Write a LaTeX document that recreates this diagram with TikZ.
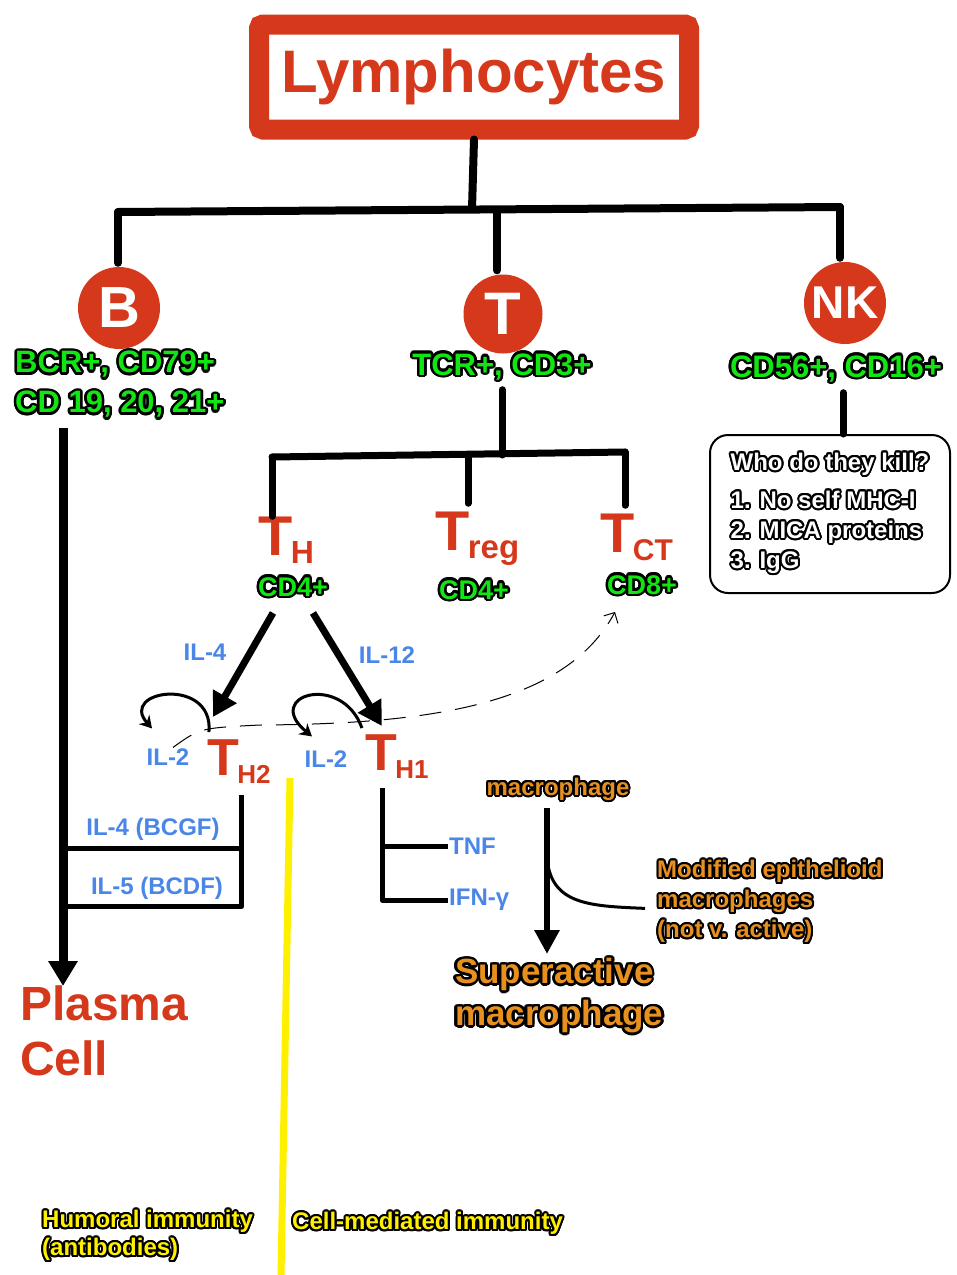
\documentclass[tikz,border=0pt]{standalone}
\usepackage{fontspec}
\setmainfont{Liberation Sans}
\usepackage{contour}
\contourlength{2pt}
\usetikzlibrary{arrows.meta, positioning}

\definecolor{tred}{HTML}{D5381A}
\definecolor{lgreen}{HTML}{12E612}
\definecolor{iblue}{HTML}{4A86E8}
\definecolor{morange}{HTML}{E8901E}
\definecolor{hyellow}{HTML}{FFF000}

% outlined text and T-subset labels
\newcommand{\outl}[1]{\contour{black}{#1}}
\newcommand{\Tsub}[3]{\fontsize{#1}{#1}\selectfont T\kern-1.5pt\raisebox{-8pt}{\fontsize{#2}{#2}\selectfont #3}}

\begin{document}
\begin{tikzpicture}[
    x=1pt, y=-1pt,
    titlebox/.style={
        rectangle, draw=tred, line width=20pt, rounded corners=4pt,
        minimum width=430pt, minimum height=105pt, text=tred,
        font=\bfseries\fontsize{60}{60}\selectfont
    },
    cell/.style={circle, fill=tred, text=white, inner sep=0pt},
    cdlabel/.style={text=lgreen, inner sep=0pt, align=left,
        font=\bfseries\fontsize{31}{40}\selectfont\contourlength{2.6pt}},
    cdsmall/.style={text=lgreen, inner sep=0pt,
        font=\bfseries\fontsize{27}{27}\selectfont\contourlength{2.4pt}},
    tsub/.style={text=tred, inner sep=0pt, anchor=base west, font=\bfseries},
    cyto/.style={text=iblue, inner sep=1pt, font=\bfseries\fontsize{24}{24}\selectfont},
    killbox/.style={
        rectangle, draw, line width=2pt, rounded corners=18pt,
        minimum width=240pt, minimum height=158pt, text=white, align=left,
        font=\bfseries\fontsize{24}{30}\selectfont
    },
    macsmall/.style={text=morange, inner sep=0pt,
        font=\bfseries\fontsize{24}{30}\selectfont},
    macbig/.style={text=morange, inner sep=0pt, align=left, anchor=north west,
        font=\bfseries\fontsize{35}{42}\selectfont\contourlength{2.5pt}},
    plasmatext/.style={text=tred, inner sep=0pt, align=left, anchor=north west,
        font=\bfseries\fontsize{48}{55}\selectfont},
    immunity/.style={text=hyellow, inner sep=0pt, align=left, anchor=north west,
        font=\bfseries\fontsize{24}{28}\selectfont},
    trunk/.style={line width=8pt, line cap=round},
    stem/.style={line width=7pt, line cap=round},
    bracket/.style={line width=5pt, line join=round},
    fat/.style={line width=7pt, -{Triangle[length=24pt,width=26pt]}},
    bigstem/.style={line width=9pt, -{Triangle[length=25pt,width=28pt]}},
    macarrow/.style={line width=6pt, -{Triangle[length=24pt,width=24pt]}},
    autoloop/.style={line width=3pt, -{Stealth[length=12pt,width=14pt]}},
    hint/.style={line width=1pt, dash pattern=on 22pt off 14pt,
        -{Straight Barb[length=8pt,width=16pt]}},
    divider/.style={line width=7pt, draw=hyellow},
]

\fill[white] (0,0) rectangle (957,1275);
\useasboundingbox (0,0) rectangle (957,1275);

% --- title ------------------------------------------------------------
\node[titlebox] (lymph) at (474,77) {Lymphocytes};

% --- the three lineages ----------------------------------------------
\node[cell, minimum size=82pt, font=\bfseries\fontsize{58}{58}\selectfont]
    (bcell) at (119,308) {B};
\node[cell, minimum size=79pt, font=\bfseries\fontsize{60}{60}\selectfont]
    (tcell) at (503,314) {T};
\node[cell, minimum size=82pt, font=\bfseries\fontsize{46}{46}\selectfont]
    (nkcell) at (845,303) {NK};

\node[cdlabel, anchor=north west] (bmark) at (15,351)
    {\outl{BCR+, CD79+}\\\outl{CD 19, 20, 21+}};
\node[cdlabel] (tmark) at (502,368) {\outl{TCR+, CD3+}};
\node[cdlabel] (nkmark) at (836,370) {\outl{CD56+, CD16+}};

\coordinate (jroot) at (472,209);
\coordinate (jb)    at (118,212);
\coordinate (jt)    at (497,210);
\coordinate (jnk)   at (840,207);

\draw[trunk] (lymph.south) -- (jroot);
\draw[trunk] (jb) -- (jnk);
\draw[trunk, shorten >=4pt] (jb)  -- (jb |- bcell.north);
\draw[trunk, shorten >=4pt] (jt)  -- (jt |- tcell.north);
\draw[trunk, shorten >=4pt] (jnk) -- (jnk |- nkcell.north);

% --- NK: who do they kill ----------------------------------------------
\node[killbox] (kill) at (830,514)
    {\outl{Who do they kill?}\\[8pt]\outl{1. No self MHC-I}\\
     \outl{2. MICA proteins}\\\outl{3. IgG}};
\coordinate (kn) at ([xshift=13pt]kill.north);
\draw[stem] ([yshift=-8pt]kn |- nkmark.south) -- (kn);

% --- T subsets ---------------------------------------------------------
\node[tsub] (th)   at (258,555) {\Tsub{56}{32}{H}};
\node[tsub] (treg) at (435,550) {\Tsub{56}{33}{reg}};
\node[tsub] (tct)  at (600,552) {\Tsub{56}{30}{CT}};

\node[cdsmall] (thcd)   at (293,588) {\outl{CD4+}};
\node[cdsmall] (tregcd) at (474,591) {\outl{CD4+}};
\node[cdsmall] (tctcd)  at (642,586) {\outl{CD8+}};

\coordinate (jsub)  at (502,455);
\coordinate (jth)   at (272,457);
\coordinate (jtreg) at (468,455);
\coordinate (jtct)  at (625,452);

\draw[stem] ([yshift=-7pt]tmark.south) -- (jsub);
\draw[stem] (jth) -- (jtct);
\draw[stem] (jth)   -- (jth |- th.north);
\draw[stem] (jtreg) -- ([yshift=8pt]jtreg |- treg.north);
\draw[stem] (jtct)  -- ([yshift=8pt]jtct |- tct.north);

% --- helper T cells ----------------------------------------------------
\node[tsub] (th2) at (207,775) {\Tsub{52}{26}{H2}};
\node[tsub] (th1) at (365,770) {\Tsub{52}{26}{H1}};

\node[cyto] (il4)  at (205,652) {IL-4};
\node[cyto] (il12) at (387,655) {IL-12};
\node[cyto] (il2a) at (168,757) {IL-2};
\node[cyto] (il2b) at (326,759) {IL-2};

\draw[fat] ([xshift=-20pt,yshift=-14pt]thcd.south)
    -- ([xshift=-26pt,yshift=22pt]th2.north);
\draw[fat] ([xshift=20pt,yshift=-14pt]thcd.south)
    -- ([xshift=-15pt,yshift=8pt]th1.north);

\draw[autoloop] ([xshift=-30pt,yshift=7pt]th2.north)
    .. controls (214,676) and (118,690) .. ([xshift=-16pt,yshift=19pt]il2a.north);
\draw[autoloop] ([xshift=-35pt,yshift=6pt]th1.north)
    .. controls (342,672) and (262,695) .. ([xshift=-14pt,yshift=13pt]il2b.north);

\draw[hint] ([xshift=5pt]il2a.north)
    .. controls (200,728) .. (260,725)
    .. controls (430,724) and (565,705) .. ([xshift=-27pt,yshift=-15pt]tctcd.south);

% --- B cell to plasma cell ---------------------------------------------
\node[plasmatext] (plasma) at (20,986) {Plasma\\Cell};
\coordinate (bstem) at ([xshift=48pt,yshift=-8pt]bmark.south west);
\draw[bigstem] (bstem) -- (bstem |- plasma.north);

\node[cyto] (il4b) at (153,829) {IL-4 (BCGF)};
\node[cyto] (il5b) at (157,888) {IL-5 (BCDF)};

\coordinate (h2stem) at ([xshift=3pt,yshift=-12pt]th2.south);
\draw[bracket] (h2stem) -- (h2stem |- 0,906) -- (bstem |- 0,906);
\draw[bracket] (h2stem |- 0,848) -- (bstem |- 0,848);

% --- TH1 products ------------------------------------------------------
\node[cyto, anchor=west] (tnf)  at (448,846) {TNF};
\node[cyto, anchor=west] (ifng) at (448,900) {IFN-γ};

\coordinate (h1stem) at ([xshift=17pt,yshift=-10pt]th1.south west);
\draw[bracket] (h1stem) |- (ifng.west);
\draw[bracket] (h1stem |- tnf.west) -- (tnf.west);

% --- macrophages -------------------------------------------------------
\node[macsmall] (mac) at (558,790) {\outl{macrophage}};
\node[macsmall, align=left, anchor=north west] (modm) at (657,860)
    {\outl{Modified epithelioid}\\\outl{macrophages}\\\outl{(not v. active)}};
\node[macbig] (superm) at (455,958) {\outl{Superactive}\\\outl{macrophage}};

\coordinate (macbase) at ([xshift=-11pt,yshift=-6pt]mac.south);
\draw[macarrow, shorten >=4pt] (macbase) -- (macbase |- superm.north);
\draw[line width=3pt] (macbase |- 0,858)
    .. controls (551,905) and (590,906) .. ([xshift=-12pt,yshift=-6pt]modm.west);

% --- humoral / cell-mediated split -------------------------------------
\draw[divider] (290,778) -- (281,1275);
\node[immunity] (humoral) at (42,1210)
    {\outl{Humoral immunity}\\\outl{(antibodies)}};
\node[immunity] (cellmed) at (292,1212) {\outl{Cell-mediated immunity}};

\end{tikzpicture}
\end{document}
